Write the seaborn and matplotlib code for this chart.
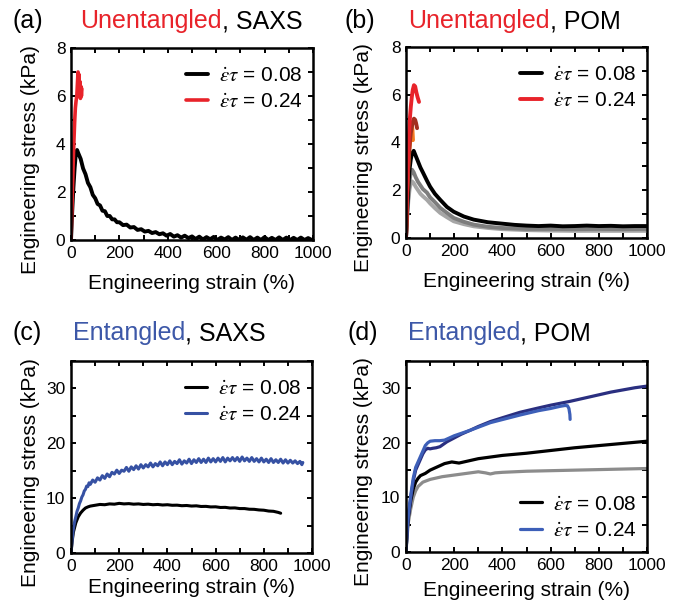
import matplotlib
matplotlib.use("Agg")
import matplotlib.pyplot as plt
from matplotlib.ticker import MultipleLocator
import seaborn as sns

# ---------------- data: engineering strain (%) vs engineering stress (kPa) ----------------
# (a) unentangled, SAXS
a_slow_x = [0, 5, 10, 15, 20, 25, 30, 40, 50, 60, 70, 80, 90, 100, 110, 120, 130, 140, 150, 160,
            170, 180, 190, 200, 215, 230, 245, 260, 275, 290, 305, 320, 335, 350, 365, 380, 395,
            410, 425, 440, 455, 470, 485, 500, 515, 530, 545, 560, 575, 590, 605, 620, 635, 650,
            665, 680, 695, 710, 725, 740, 755, 770, 785, 800, 815, 830, 845, 860, 875, 890, 905,
            920, 935, 950, 965, 980, 995]
a_slow_y = [0, 1.2, 2.2, 3.0, 3.6, 3.75, 3.62, 3.38, 2.98, 2.74, 2.38, 2.2, 1.88, 1.74, 1.5, 1.44,
            1.22, 1.2, 1.0, 1.0, 0.86, 0.86, 0.74, 0.74, 0.62, 0.64, 0.52, 0.54, 0.42, 0.45, 0.35,
            0.38, 0.29, 0.33, 0.24, 0.28, 0.18, 0.25, 0.14, 0.2, 0.1, 0.18, 0.08, 0.15, 0.04, 0.14,
            0.02, 0.12, 0.03, 0.13, 0.0, 0.1, 0.02, 0.12, 0.0, 0.1, 0.0, 0.11, 0.01, 0.12, 0.0,
            0.1, 0.0, 0.12, 0.0, 0.09, 0.0, 0.11, 0.0, 0.1, 0.0, 0.09, 0.0, 0.1, 0.0, 0.08, 0.0]
a_fast_x = [0, 3, 6, 9, 12, 15, 18, 21, 24, 27, 29, 31, 33, 35, 37, 39, 41, 43, 45]
a_fast_y = [0, 1.0, 2.1, 3.2, 4.1, 4.9, 5.5, 5.8, 6.0, 6.6, 7.0, 6.4, 6.9, 6.1, 6.6, 5.9, 6.4, 6.0, 6.3]

# (b) unentangled, POM
b_black_x = [0, 5, 10, 15, 20, 25, 32, 40, 50, 60, 70, 87, 100, 120, 142, 170, 198, 240, 281, 340,
             400, 450, 500, 550, 600, 650, 700, 750, 800, 850, 900, 950, 1000]
b_black_y = [0, 1.2, 2.2, 2.9, 3.3, 3.55, 3.65, 3.45, 3.2, 2.95, 2.75, 2.4, 2.15, 1.85, 1.6, 1.3,
             1.1, 0.9, 0.77, 0.66, 0.6, 0.55, 0.52, 0.5, 0.52, 0.49, 0.5, 0.52, 0.5, 0.51, 0.49,
             0.5, 0.5]
b_grey_x = [0, 5, 10, 15, 20, 25, 32, 40, 50, 60, 70, 87, 100, 120, 142, 170, 198, 240, 281, 340,
            400, 450, 500, 600, 700, 800, 900, 1000]
b_grey_y = [0, 1.0, 1.8, 2.4, 2.75, 2.86, 2.75, 2.55, 2.35, 2.2, 2.05, 1.9, 1.7, 1.5, 1.26,
            1.05, 0.84, 0.68, 0.56, 0.47, 0.42, 0.4, 0.38, 0.38, 0.37, 0.38, 0.37, 0.38]
b_light_x = [0, 5, 10, 15, 20, 25, 32, 40, 50, 60, 70, 87, 100, 120, 142, 170, 198, 240, 281, 340,
             400, 450, 500, 600, 700, 800, 900, 1000]
b_light_y = [0, 0.9, 1.6, 2.05, 2.3, 2.37, 2.3, 2.15, 2.0, 1.85, 1.75, 1.6, 1.45, 1.25, 1.05,
             0.87, 0.7, 0.58, 0.49, 0.42, 0.37, 0.35, 0.33, 0.31, 0.3, 0.3, 0.3, 0.3]
b_red_x = [0, 4, 8, 12, 16, 20, 24, 28, 33, 38, 43, 48, 54]
b_red_y = [0, 1.8, 3.2, 4.3, 5.0, 5.5, 5.9, 6.2, 6.4, 6.35, 6.1, 5.9, 5.7]
b_brown_x = [0, 4, 8, 12, 16, 20, 25, 29, 33, 38, 42, 46]
b_brown_y = [0, 1.5, 2.7, 3.5, 4.0, 4.4, 4.7, 4.9, 5.0, 4.95, 4.8, 4.6]
b_orange_x = [0, 3, 6, 9, 12, 15, 18, 21, 25, 27, 29]
b_orange_y = [0, 1.2, 2.2, 2.9, 3.4, 3.8, 4.1, 4.4, 4.7, 4.5, 4.1]

# (c) entangled, SAXS
c_slow_x = [0, 5, 10, 20, 30, 40, 50, 60, 70, 80, 100, 120, 140, 160, 180, 200, 220, 240, 260, 280,
            300, 320, 340, 360, 380, 400, 420, 440, 460, 480, 500, 520, 540, 560, 580, 600, 620,
            640, 660, 680, 700, 720, 740, 760, 780, 800, 820, 840, 860, 870]
c_slow_y = [0, 2.2, 3.8, 5.5, 6.6, 7.3, 7.8, 8.2, 8.4, 8.55, 8.7, 8.85, 8.8, 8.95, 8.9, 9.05,
            8.95, 9.0, 8.9, 8.95, 8.85, 8.9, 8.8, 8.85, 8.75, 8.8, 8.7, 8.72, 8.62, 8.66, 8.56,
            8.6, 8.48, 8.5, 8.4, 8.42, 8.3, 8.32, 8.2, 8.22, 8.1, 8.1, 7.98, 7.96, 7.85, 7.8,
            7.65, 7.6, 7.4, 7.25]
c_fast_x = [0, 4, 8, 12, 16, 20, 25, 30, 35, 40, 45, 50, 55, 60, 65, 70, 75, 80, 90, 100, 110, 120,
            130, 140, 150, 160, 170, 180, 190, 200, 210, 220, 230, 240, 250, 260, 270, 280, 290,
            300, 310, 320, 330, 340, 350, 360, 370, 380, 390, 400, 410, 420, 430, 440, 450, 460,
            470, 480, 490, 500, 510, 520, 530, 540, 550, 560, 570, 580, 590, 600, 610, 620, 630,
            640, 650, 660, 670, 680, 690, 700, 710, 720, 730, 740, 750, 760, 770, 780, 790, 800,
            810, 820, 830, 840, 850, 860, 870, 880, 890, 900, 910, 920, 930, 940, 950, 958, 962]
c_fast_y = [0, 2.0, 3.8, 5.0, 5.9, 6.6, 7.6, 8.2, 9.0, 9.5, 10.2, 10.6, 11.3, 11.6, 12.2, 12.1,
            12.8, 12.5, 13.3, 12.9, 13.7, 13.3, 14.1, 13.6, 14.4, 13.9, 14.7, 14.4, 15.1, 14.5,
            15.1, 14.9, 15.6, 14.9, 15.7, 15.2, 15.9, 15.3, 16.1, 15.5, 16.1, 15.7, 16.4, 15.7,
            16.3, 15.9, 16.6, 15.9, 16.6, 16.1, 16.8, 16.1, 16.7, 16.3, 17.0, 16.2, 16.8, 16.4,
            17.1, 16.3, 17.0, 16.5, 17.2, 16.5, 17.1, 16.5, 17.3, 16.6, 17.2, 16.6, 17.3, 16.7,
            17.4, 16.6, 17.3, 16.8, 17.4, 16.8, 17.4, 16.7, 17.5, 16.8, 17.3, 16.7, 17.4, 16.7,
            17.2, 16.6, 17.3, 16.6, 17.1, 16.5, 17.2, 16.5, 17.0, 16.5, 17.1, 16.4, 17.0, 16.4,
            16.9, 16.4, 16.8, 16.3, 16.7, 16.1, 16.5]

# (d) entangled, POM
d_navy_x = [0, 5, 10, 20, 30, 40, 50, 60, 70, 80, 90, 100, 110, 125, 141, 170, 200, 230, 266, 300,
            350, 400, 473, 550, 600, 680, 750, 800, 850, 900, 950, 1000]
d_navy_y = [0, 4.0, 6.5, 10.0, 13.0, 15.0, 16.0, 17.0, 18.0, 18.7, 19.0, 18.9, 19.0, 19.1, 19.3,
            20.2, 20.9, 21.6, 22.3, 23.0, 23.9, 24.6, 25.6, 26.4, 26.9, 27.6, 28.3, 28.8, 29.3,
            29.7, 30.1, 30.4]
d_blue_x = [0, 5, 10, 20, 30, 40, 50, 60, 70, 80, 90, 100, 120, 140, 160, 200, 266, 350, 473, 550,
            600, 640, 660, 670, 676, 680, 681]
d_blue_y = [0, 4.5, 7.0, 10.5, 13.5, 15.5, 16.5, 17.5, 18.5, 19.5, 20.0, 20.3, 20.4, 20.4, 20.5,
            21.3, 22.3, 23.7, 25.1, 25.9, 26.3, 26.7, 26.85, 26.8, 26.3, 25.2, 24.3]
d_black_x = [0, 5, 10, 20, 30, 40, 50, 60, 80, 100, 130, 160, 190, 220, 250, 300, 400, 500, 600,
             700, 800, 900, 1000]
d_black_y = [0, 4.0, 6.5, 9.5, 11.5, 12.8, 13.5, 14.0, 14.4, 15.0, 15.6, 16.2, 16.5, 16.3, 16.6,
             17.1, 17.7, 18.1, 18.6, 19.1, 19.5, 19.9, 20.3]
d_grey_x = [0, 5, 10, 20, 30, 40, 50, 70, 100, 150, 200, 250, 300, 330, 350, 370, 400, 500, 600,
            700, 800, 900, 1000]
d_grey_y = [0, 3.0, 5.5, 8.0, 10.0, 11.2, 12.0, 12.8, 13.3, 13.8, 14.1, 14.4, 14.7, 14.5, 14.3,
            14.5, 14.6, 14.8, 14.9, 15.0, 15.1, 15.2, 15.3]

rate_labels = [r"$\dot{\varepsilon}\tau$ = 0.08", r"$\dot{\varepsilon}\tau$ = 0.24"]

RED = "#e8232a"
BLUE = "#3d58a8"

# ---------------- style ----------------
sns.set_theme(style="ticks")
plt.rcParams["font.family"] = ["Liberation Sans", "DejaVu Sans"]
plt.rcParams["mathtext.fontset"] = "stix"
for key in ("text.color", "axes.labelcolor", "xtick.color", "ytick.color", "axes.edgecolor"):
    plt.rcParams[key] = "black"

W, H = 678, 608
fig = plt.figure(figsize=(W / 100, H / 100), dpi=100)

boxes = {
    "a": (71, 48, 313, 240),
    "b": (406, 47, 647, 238),
    "c": (71, 361, 312, 553),
    "d": (406, 361, 647, 552),
}
axes = {}
for k, (l, t, r, b) in boxes.items():
    axes[k] = fig.add_axes([l / W, 1 - b / H, (r - l) / W, (b - t) / H])


def curve(ax, x, y, color, label=None, lw=2.3):
    sns.lineplot(x=x, y=y, ax=ax, color=color, lw=lw, sort=False, estimator=None,
                 label=label, legend=False)
    return ax.lines[-1]


def style_axes(ax, ymax, ymajor, yminor, xpad, ylab_x):
    ax.set_xlim(0, 1000)
    ax.set_ylim(0, ymax)
    ax.xaxis.set_major_locator(MultipleLocator(200))
    ax.xaxis.set_minor_locator(MultipleLocator(100))
    ax.yaxis.set_major_locator(MultipleLocator(ymajor))
    ax.yaxis.set_minor_locator(MultipleLocator(yminor))
    ax.tick_params(which="both", direction="in", top=True, right=True,
                   length=3.5, width=1.4, color="black", labelcolor="black",
                   labelsize=12.5, pad=4)
    for s in ax.spines.values():
        s.set_linewidth(1.8)
        s.set_color("black")
    ax.set_xlabel("Engineering strain (%)", fontsize=15, labelpad=xpad)
    ax.set_ylabel("Engineering stress (kPa)", fontsize=15)
    ax.yaxis.set_label_coords(ylab_x, 0.42)


def add_legend(ax, handles, loc, anchor):
    ax.legend(handles=handles, labels=rate_labels, loc=loc, bbox_to_anchor=anchor,
              frameon=False, fontsize=15, handlelength=1.05, handletextpad=0.5,
              labelspacing=0.35, borderaxespad=0.0)


# (a)
ax = axes["a"]
h1 = curve(ax, a_slow_x, a_slow_y, "black", lw=2.8)
h2 = curve(ax, a_fast_x, a_fast_y, RED, lw=2.6)
style_axes(ax, 8, 2, 1, 10, -0.13)
add_legend(ax, [h1, h2], "upper right", (0.99, 0.95))

# (b)
ax = axes["b"]
curve(ax, b_light_x, b_light_y, "#a6a6a6", lw=2.8)
curve(ax, b_grey_x, b_grey_y, "#7d7d7d", lw=2.8)
h1 = curve(ax, b_black_x, b_black_y, "black", lw=2.8)
curve(ax, b_orange_x, b_orange_y, "#f47a20", lw=2.8)
curve(ax, b_brown_x, b_brown_y, "#a3301f", lw=2.8)
h2 = curve(ax, b_red_x, b_red_y, RED, lw=2.8)
style_axes(ax, 8, 2, 1, 10, -0.137)
add_legend(ax, [h1, h2], "upper right", (0.99, 0.95))

# (c)
ax = axes["c"]
h1 = curve(ax, c_slow_x, c_slow_y, "black", lw=2.2)
h2 = curve(ax, c_fast_x, c_fast_y, "#3651a3", lw=2.2)
style_axes(ax, 35, 10, 5, 3, -0.13)
add_legend(ax, [h1, h2], "upper right", (0.99, 0.95))

# (d)
ax = axes["d"]
curve(ax, d_grey_x, d_grey_y, "#8c8c8c", lw=2.3)
h1 = curve(ax, d_black_x, d_black_y, "black", lw=2.3)
curve(ax, d_navy_x, d_navy_y, "#2a2f80", lw=2.3)
h2 = curve(ax, d_blue_x, d_blue_y, "#3d5fb8", lw=2.3)
style_axes(ax, 35, 10, 5, 6, -0.137)
add_legend(ax, [h1, h2], "lower right", (0.99, 0.02))

# ---------------- panel headings ----------------
headings = [
    ("(a)", 13, "Unentangled", RED, ", SAXS", 80, 28),
    ("(b)", 345, "Unentangled", RED, ", POM", 408, 28),
    ("(c)", 13, "Entangled", BLUE, ", SAXS", 73, 340),
    ("(d)", 347, "Entangled", BLUE, ", POM", 408, 340),
]
renderer = fig.canvas.get_renderer()
for tag, xt, word, col, rest, xw, yb in headings:
    fig.text(xt / W, 1 - yb / H, tag, fontsize=18, va="baseline", ha="left", color="black")
    t = fig.text(xw / W, 1 - yb / H, word, fontsize=18, color=col, va="baseline", ha="left")
    bb = t.get_window_extent(renderer=renderer)
    fig.text(bb.x1 / W, 1 - yb / H, rest, fontsize=18, va="baseline", ha="left", color="black")

fig.savefig("out.png", dpi=100)
